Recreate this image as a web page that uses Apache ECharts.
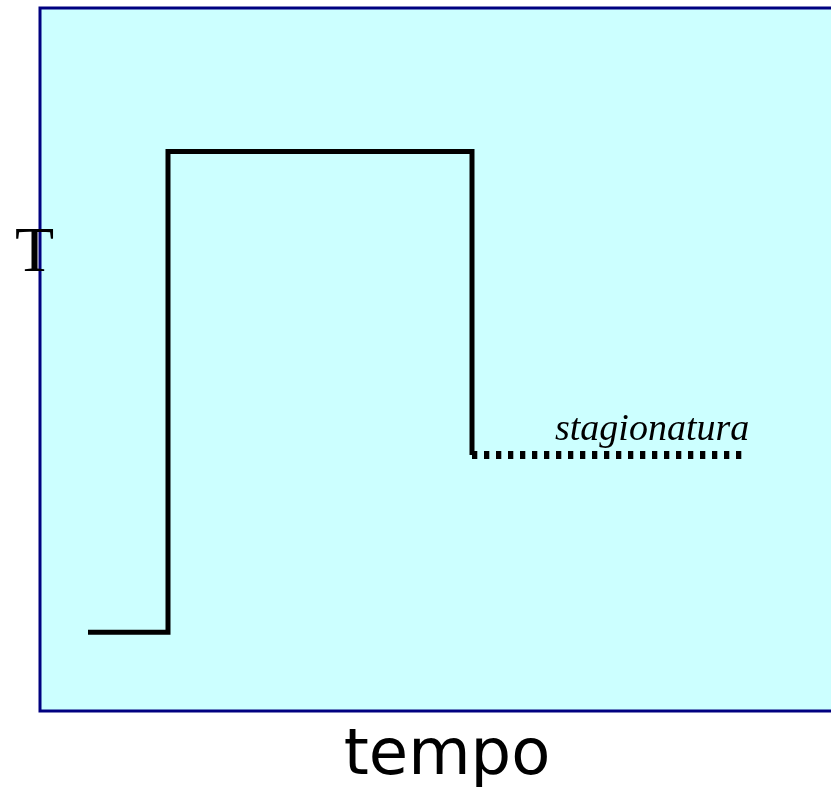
<!DOCTYPE html>
<html>
	<head>
		<meta charset="UTF-8">
		<title>T - tempo</title>
		<script src="https://cdn.jsdelivr.net/npm/echarts@6/dist/echarts.min.js"></script>
		<style>
			html, body { margin: 0; padding: 0; background: #ffffff; }
			#main { width: 831px; height: 790px; }
		</style>
	</head>
	<body>
		<div id="main"></div>
	</body>
<script>
	// profilo termico: tratto continuo (tempo, T)
	var timeSteps = [6, 16, 16, 54, 54];
	var tempSteps = [11.2, 11.2, 79.6, 79.6, 36.4];
	// stagionatura: tratto puntinato
	var seasonTime = [54, 87.7];
	var seasonTemp = 36.4;

	var axisX = 'tempo';
	var axisY = 'T';
	var seasonLabel = 'stagionatura';

	var solidData = timeSteps.map(function (t, i) { return [t, tempSteps[i]]; });
	var dottedData = seasonTime.map(function (t) { return [t, seasonTemp]; });

	var option = {
		animation: false,
		grid: {
			left: 40,
			top: 8,
			width: 800,
			height: 703,
			outerBoundsMode: 'none',
			show: true,
			backgroundColor: '#ccffff',
			borderColor: '#000080',
			borderWidth: 3
		},
		xAxis: { type: 'value', min: 0, max: 100, show: false },
		yAxis: { type: 'value', min: 0, max: 100, show: false },
		graphic: [
			{
				type: 'text',
				style: {
					x: 15, y: 254,
					text: axisY,
					font: '64px "Liberation Serif"',
					fill: '#000000',
					textAlign: 'left',
					textVerticalAlign: 'middle'
				}
			},
			{
				type: 'text',
				style: {
					x: 447, y: 757,
					text: axisX,
					font: '64px "DejaVu Sans"',
					fill: '#000000',
					textAlign: 'center',
					textVerticalAlign: 'middle'
				}
			},
			{
				type: 'text',
				style: {
					x: 555, y: 430,
					text: seasonLabel,
					font: 'italic 38px "Liberation Serif"',
					fill: '#000000',
					textAlign: 'left',
					textVerticalAlign: 'middle'
				}
			}
		],
		series: [
			{
				type: 'line',
				data: solidData,
				symbol: 'none',
				lineStyle: { color: '#000000', width: 5, join: 'miter', cap: 'butt' }
			},
			{
				type: 'line',
				data: dottedData,
				symbol: 'none',
				lineStyle: { color: '#000000', width: 8, type: [5.3, 6.7], cap: 'butt' }
			}
		]
	};

	var myChart = echarts.init(document.getElementById('main'));
	myChart.setOption(option);
</script>
</html>
